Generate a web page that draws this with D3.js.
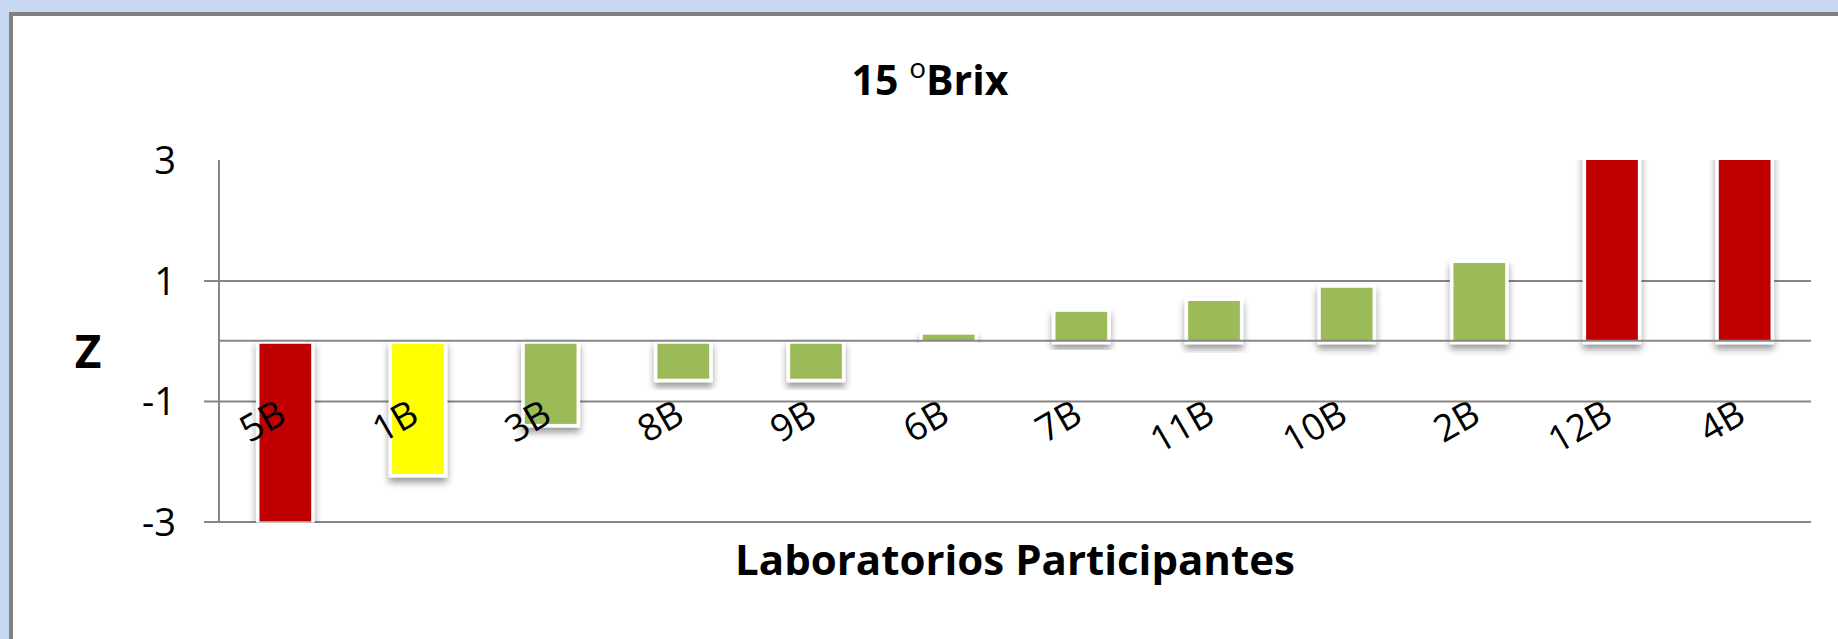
<!DOCTYPE html>
<html>
<head>
<meta charset="utf-8">
<script src="https://cdn.jsdelivr.net/npm/d3@7"></script>
<style>
  body { margin: 0; background: #c6d9f1; }
  svg { display: block; }
  text { font-family: "Open Sans", sans-serif; fill: #000; }
</style>
</head>
<body>
<svg id="chart" width="1838" height="639"></svg>
<script>
// data
const labs = ["5B", "1B", "3B", "8B", "9B", "6B", "7B", "11B", "10B", "2B", "12B", "4B"];
const zScores = [-3.0, -2.21, -1.38, -0.63, -0.63, 0.10, 0.48, 0.66, 0.88, 1.29, 3.6, 4.2];
const yTicks = [3, 1, -1, -3];
const gridTicks = [1, -1, -3];

const data = labs.map((lab, i) => ({ lab: lab, z: zScores[i] }));

const svg = d3.select("#chart");

// chart area with grey border
svg.append("rect")
  .attr("x", 0).attr("y", 0)
  .attr("width", 1838).attr("height", 639)
  .attr("fill", "#c6d9f1");
svg.append("rect")
  .attr("x", 11).attr("y", 14)
  .attr("width", 1840).attr("height", 640)
  .attr("fill", "#fff")
  .attr("stroke", "#808080")
  .attr("stroke-width", 4);

const left = 219, right = 1811;

const x = d3.scaleBand()
  .domain(labs)
  .range([left, right])
  .paddingInner(0.61)
  .paddingOuter(0.305);

const y = d3.scaleLinear()
  .domain([-3, 3])
  .range([521.5, 160]);

// colour by |z|: ok, doubtful, not satisfactory
const colour = d3.scaleThreshold()
  .domain([2, 3])
  .range(["#9bbb59", "#ffff00", "#c00000"]);

// shadow for bars
const defs = svg.append("defs");
const f = defs.append("filter").attr("id", "shadow")
  .attr("x", "-30%").attr("y", "-30%").attr("width", "160%").attr("height", "160%");
f.append("feDropShadow")
  .attr("dx", 0).attr("dy", 5)
  .attr("stdDeviation", 3.5)
  .attr("flood-color", "#000")
  .attr("flood-opacity", 0.4);

defs.append("clipPath").attr("id", "plot")
  .append("rect")
  .attr("x", left).attr("y", y(3))
  .attr("width", right - left).attr("height", y(-3) - y(3) + 1);

// gridlines with outside ticks
svg.append("g")
  .attr("transform", `translate(${right},0)`)
  .call(d3.axisLeft(y).tickValues(gridTicks).tickSize(right - left + 15).tickFormat(""))
  .call(g => g.select(".domain").remove())
  .selectAll("line")
  .attr("stroke", "#868686")
  .attr("stroke-width", 2);

// y tick labels
svg.append("g")
  .attr("transform", `translate(${left},0)`)
  .call(d3.axisLeft(y).tickValues(yTicks).tickSize(0).tickPadding(43).tickFormat(d => String(d)))
  .call(g => g.select(".domain").remove())
  .selectAll("text")
  .style("font-family", "'Open Sans', sans-serif")
  .style("font-size", "38px")
  .attr("fill", "#000")
  .attr("dy", "0.36em");

// bars: white border outside the fill, negative bars sit just under the axis
const gap = 3;
svg.append("g")
  .attr("clip-path", "url(#plot)")
  .selectAll(".bar")
  .data(data)
  .enter()
  .append("rect")
  .attr("class", "bar")
  .attr("x", d => x(d.lab))
  .attr("y", d => d.z >= 0 ? y(d.z) : y(0) + gap)
  .attr("width", x.bandwidth())
  .attr("height", d => d.z >= 0 ? y(0) - y(d.z) : y(d.z) - y(0) - gap)
  .attr("fill", d => colour(Math.abs(d.z)))
  .attr("stroke", "#fff")
  .attr("stroke-width", 7)
  .attr("paint-order", "stroke")
  .attr("filter", "url(#shadow)");

// y axis line and zero line on top
svg.append("line")
  .attr("x1", left).attr("x2", left)
  .attr("y1", y(3)).attr("y2", y(-3) + 1)
  .attr("stroke", "#868686").attr("stroke-width", 2);
svg.append("line")
  .attr("x1", left).attr("x2", right)
  .attr("y1", y(0)).attr("y2", y(0))
  .attr("stroke", "#868686").attr("stroke-width", 2);

// category labels, rotated
svg.append("g")
  .selectAll(".lab")
  .data(data)
  .enter()
  .append("text")
  .attr("class", "lab")
  .attr("text-anchor", "end")
  .attr("font-size", 37)
  .attr("transform", d => `translate(${x(d.lab) + x.bandwidth() / 2 + 3},421) rotate(-30)`)
  .text(d => d.lab);

// titles
const title = svg.append("text")
  .attr("x", 930).attr("y", 95)
  .attr("text-anchor", "middle")
  .attr("font-size", 41)
  .attr("font-weight", "bold");
title.append("tspan").text("15 ");
title.append("tspan").attr("font-size", 28).attr("dy", -17).attr("font-weight", "normal").text("o");
title.append("tspan").attr("dy", 17).text("Brix");

svg.append("text")
  .attr("x", (left + right) / 2).attr("y", 575)
  .attr("text-anchor", "middle")
  .attr("font-size", 42)
  .attr("font-weight", "bold")
  .text("Laboratorios Participantes");

svg.append("text")
  .attr("x", 88).attr("y", 368)
  .attr("text-anchor", "middle")
  .attr("font-size", 46)
  .attr("font-weight", "bold")
  .text("Z");
</script>
</body>
</html>
